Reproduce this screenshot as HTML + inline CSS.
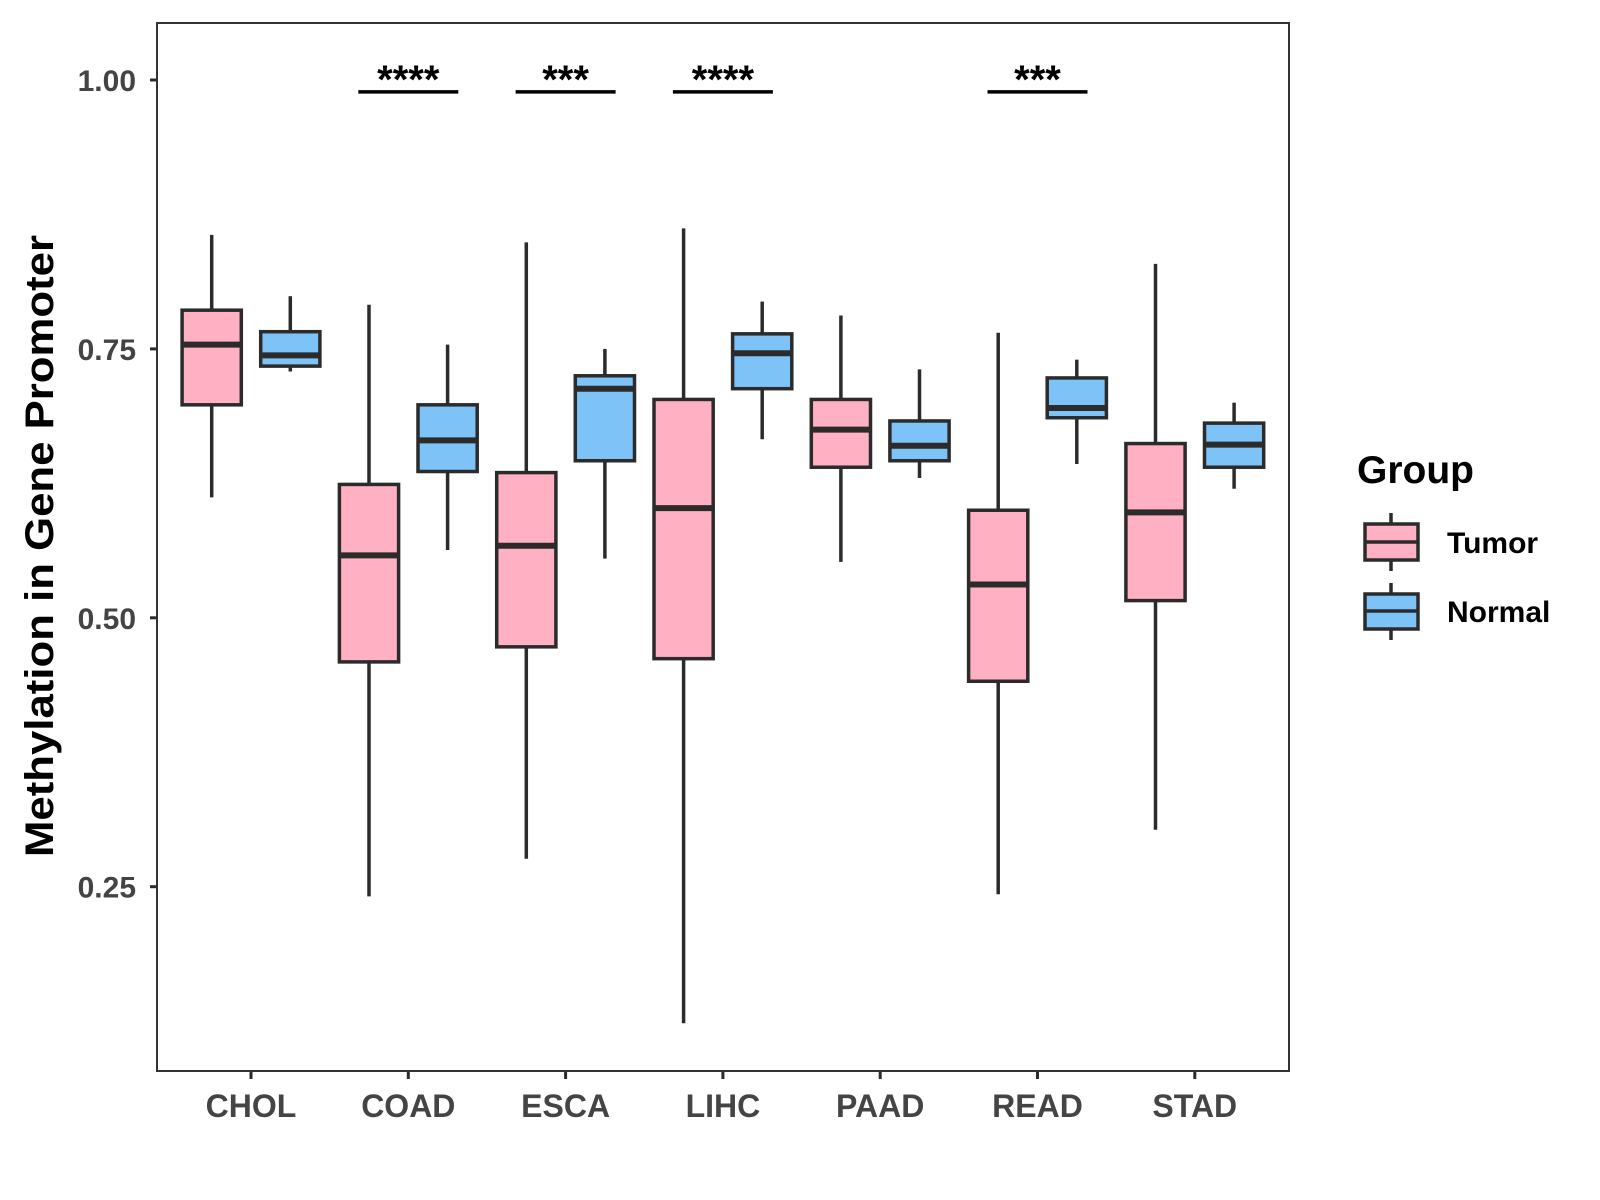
<!DOCTYPE html>
<html><head><meta charset="utf-8"><style>
html,body{margin:0;padding:0;background:#fff;}
svg{display:block;font-family:"Liberation Sans",Arial,sans-serif;}
</style></head><body>
<svg id="chart" width="1600" height="1200" viewBox="0 0 1600 1200">
<rect x="0" y="0" width="1600" height="1200" fill="#fff"/>
<g id="marks"></g>
<rect x="157" y="23" width="1132" height="1048" fill="none" stroke="#333" stroke-width="2"/>
<text transform="translate(53,546) rotate(-90)" text-anchor="middle" font-size="40" font-weight="bold" fill="#000" textLength="622" lengthAdjust="spacingAndGlyphs">Methylation in Gene Promoter</text>
<g>
<text x="1357" y="483" font-size="39" font-weight="bold" fill="#000">Group</text>
<g>
<line x1="1391" y1="513" x2="1391" y2="571" stroke="#2b2b2b" stroke-width="3.5"/>
<rect x="1365" y="524" width="53" height="36" fill="#FFB0C2" stroke="#2b2b2b" stroke-width="3.5"/>
<line x1="1365" y1="542" x2="1418" y2="542" stroke="#2b2b2b" stroke-width="3.5"/>
<text x="1447" y="553" font-size="30" font-weight="bold" fill="#000">Tumor</text>
</g>
<g>
<line x1="1391" y1="583" x2="1391" y2="640" stroke="#2b2b2b" stroke-width="3.5"/>
<rect x="1365" y="594" width="53" height="35" fill="#7DC3F7" stroke="#2b2b2b" stroke-width="3.5"/>
<line x1="1365" y1="611" x2="1418" y2="611" stroke="#2b2b2b" stroke-width="3.5"/>
<text x="1447" y="622" font-size="30" font-weight="bold" fill="#000">Normal</text>
</g>
</g>
</svg>
<script>
const categories = ["CHOL","COAD","ESCA","LIHC","PAAD","READ","STAD"];
const tumorLow = [0.612,0.241,0.276,0.123,0.552,0.243,0.303];
const tumorQ1 = [0.698,0.459,0.473,0.462,0.640,0.441,0.516];
const tumorMed = [0.754,0.558,0.567,0.602,0.675,0.531,0.598];
const tumorQ3 = [0.786,0.624,0.635,0.703,0.703,0.600,0.662];
const tumorHigh = [0.856,0.791,0.849,0.862,0.781,0.765,0.829];
const normalLow = [0.729,0.563,0.555,0.666,0.630,0.643,0.620];
const normalQ1 = [0.734,0.636,0.646,0.713,0.646,0.686,0.640];
const normalMed = [0.744,0.665,0.713,0.746,0.660,0.695,0.661];
const normalQ3 = [0.766,0.698,0.725,0.764,0.683,0.723,0.681];
const normalHigh = [0.799,0.754,0.750,0.794,0.731,0.740,0.700];
const yTicks = [0.25,0.50,0.75,1.00];
const yTickLabels = ["0.25","0.50","0.75","1.00"];
const sigCategories = ["COAD","ESCA","LIHC","READ"];
const sigLabels = ["****","***","****","***"];
const sigLevel = 0.989;

const NS="http://www.w3.org/2000/svg";
const g=document.getElementById('marks');
function y(v){return 80+(1-v)*1075.6;}
function x(i){return 251+i*157.3;}
const half=29.6, dodge=39.3, col="#2b2b2b";
function el(tag,attrs){const e=document.createElementNS(NS,tag);for(const k in attrs)e.setAttribute(k,attrs[k]);g.appendChild(e);return e;}

yTicks.forEach((t,i)=>{
  const tk=el('line',{x1:150,x2:157,y1:y(t),y2:y(t),stroke:col,'stroke-width':3});
  
  
  const lb=el('text',{x:136,y:y(t)+11,'text-anchor':'end','font-size':30,'font-weight':'bold',fill:'#444'});
  lb.textContent=yTickLabels[i];
  
  
});
categories.forEach((c,i)=>{
  const tk=el('line',{x1:x(i),x2:x(i),y1:1071,y2:1079,stroke:col,'stroke-width':3});
  
  
  const lb=el('text',{x:x(i),y:1117,'text-anchor':'middle','font-size':32,'font-weight':'bold',fill:'#444'});
  lb.textContent=c;
  
  
});
function box(cx,lo,q1,md,q3,hi,fill,name){
  const w1=el('line',{x1:cx,x2:cx,y1:y(hi),y2:y(q3),stroke:col,'stroke-width':3.5});
  
  
  const w2=el('line',{x1:cx,x2:cx,y1:y(q1),y2:y(lo),stroke:col,'stroke-width':3.5});
  
  
  const r=el('rect',{x:cx-half,y:y(q3),width:2*half,height:y(q1)-y(q3),fill:fill,stroke:col,'stroke-width':3.5});
  
  
  const m=el('line',{x1:cx-half,x2:cx+half,y1:y(md),y2:y(md),stroke:col,'stroke-width':6});
  
  
}
categories.forEach((c,i)=>{
  box(x(i)-dodge,tumorLow[i],tumorQ1[i],tumorMed[i],tumorQ3[i],tumorHigh[i],'#FFB0C2','tumor-'+c.toLowerCase());
  box(x(i)+dodge,normalLow[i],normalQ1[i],normalMed[i],normalQ3[i],normalHigh[i],'#7DC3F7','normal-'+c.toLowerCase());
});
sigCategories.forEach((c,k)=>{
  const i=categories.indexOf(c);
  const b=el('line',{x1:x(i)-50,x2:x(i)+50,y1:y(sigLevel),y2:y(sigLevel),stroke:'#000','stroke-width':3.5});
  
  
  const t=el('text',{x:x(i),y:y(sigLevel)+1,'text-anchor':'middle','font-size':40,'font-weight':'bold',fill:'#000'});
  t.textContent=sigLabels[k];
  
  
});
</script>
</body></html>
